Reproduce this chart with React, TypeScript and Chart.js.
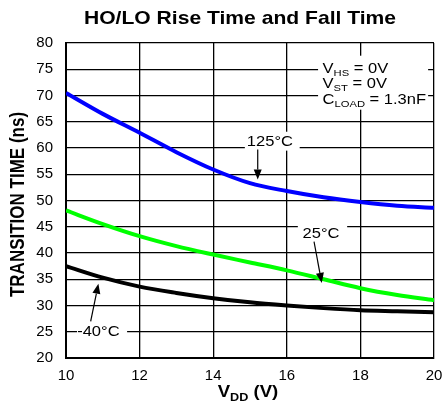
import React, { useEffect, useRef } from "react";
import { Chart, registerables } from "chart.js";

Chart.register(...registerables);

const VDD = [10, 11, 12, 13, 14, 15, 16, 17, 18, 19, 20];
const T125 = [70.5, 66.5, 62.9, 59.2, 55.9, 53.3, 51.8, 50.6, 49.7, 49.0, 48.6];
const T25 = [48.1, 45.5, 43.2, 41.3, 39.7, 38.2, 36.7, 35.0, 33.3, 32.0, 31.0];
const TM40 = [37.5, 35.3, 33.6, 32.4, 31.4, 30.6, 30.0, 29.5, 29.1, 28.9, 28.7];
const X_TICKS = [10, 12, 14, 16, 18, 20];
const Y_TICKS = [20, 25, 30, 35, 40, 45, 50, 55, 60, 65, 70, 75, 80];

const TITLE = "HO/LO Rise Time and Fall Time";
const Y_TITLE = "TRANSITION TIME (ns)";

const FONT = "'Liberation Sans', Arial, Helvetica, sans-serif";
const SX = 1.14;

type Seg = { t: string; sub?: boolean };

function richWidth(ctx: CanvasRenderingContext2D, segs: Seg[], size: number, bold: boolean) {
  let w = 0;
  for (const s of segs) {
    ctx.font = `${bold ? "bold " : ""}${s.sub ? size * 0.68 : size}px ${FONT}`;
    w += ctx.measureText(s.t).width;
  }
  return w;
}

function drawRich(
  ctx: CanvasRenderingContext2D,
  segs: Seg[],
  x: number,
  y: number,
  size: number,
  bold: boolean,
  align: "left" | "center"
) {
  ctx.save();
  ctx.translate(x, y);
  ctx.scale(SX, 1);
  ctx.fillStyle = "#000";
  ctx.textBaseline = "alphabetic";
  ctx.textAlign = "left";
  const w = richWidth(ctx, segs, size, bold);
  let cx = align === "center" ? -w / 2 : 0;
  for (const s of segs) {
    const sz = s.sub ? size * 0.68 : size;
    ctx.font = `${bold ? "bold " : ""}${sz}px ${FONT}`;
    ctx.fillText(s.t, cx, s.sub ? size * 0.22 : 0);
    cx += ctx.measureText(s.t).width;
  }
  ctx.restore();
}

function arrow(ctx: CanvasRenderingContext2D, x1: number, y1: number, x2: number, y2: number) {
  const ang = Math.atan2(y2 - y1, x2 - x1);
  const L = 10, H = 4;
  ctx.save();
  ctx.strokeStyle = "#000";
  ctx.fillStyle = "#000";
  ctx.lineWidth = 1.2;
  ctx.beginPath();
  ctx.moveTo(x1, y1);
  ctx.lineTo(x2 - Math.cos(ang) * L, y2 - Math.sin(ang) * L);
  ctx.stroke();
  ctx.beginPath();
  ctx.moveTo(x2, y2);
  ctx.lineTo(x2 - Math.cos(ang) * L - Math.sin(ang) * H, y2 - Math.sin(ang) * L + Math.cos(ang) * H);
  ctx.lineTo(x2 - Math.cos(ang) * L + Math.sin(ang) * H, y2 - Math.sin(ang) * L - Math.cos(ang) * H);
  ctx.closePath();
  ctx.fill();
  ctx.restore();
}

// annotation definitions in data units
const LABELS = [
  { text: "125°C", cx: 15.54, cy: 61.1, box: [14.86, 16.35, 63.1, 59.5], arrow: [15.21, 59.7, 15.21, 54.0] },
  { text: "25°C", cx: 16.93, cy: 43.7, box: [16.3, 17.64, 45.96, 41.77], arrow: [16.74, 42.15, 16.95, 34.3] },
  { text: "-40°C", cx: 10.88, cy: 24.9, box: [10.3, 11.66, 26.9, 22.9], arrow: [10.67, 26.97, 10.88, 34.15] },
];
const COND_BOX = [16.85, 19.84, 77.58, 67.3];
const COND_X = 16.97;
const COND_Y = [74.34, 71.39, 68.44];
const COND_LINES: Seg[][] = [
  [{ t: "V" }, { t: "HS", sub: true }, { t: " = 0V" }],
  [{ t: "V" }, { t: "ST", sub: true }, { t: " = 0V" }],
  [{ t: "C" }, { t: "LOAD", sub: true }, { t: " = 1.3nF" }],
];

const annotPlugin = {
  id: "annot",
  afterDatasetsDraw(chart: any) {
    const ctx: CanvasRenderingContext2D = chart.ctx;
    const xs = chart.scales.x;
    const ys = chart.scales.y;
    const px = (v: number) => xs.getPixelForValue(v);
    const py = (v: number) => ys.getPixelForValue(v);
    ctx.save();
    ctx.fillStyle = "#fff";
    for (const l of LABELS) {
      const [x1, x2, y1, y2] = l.box;
      ctx.fillRect(px(x1), py(y1), px(x2) - px(x1), py(y2) - py(y1));
    }
    {
      const [x1, x2, y1, y2] = COND_BOX;
      ctx.fillRect(px(x1), py(y1), px(x2) - px(x1), py(y2) - py(y1));
    }
    ctx.restore();
    for (const l of LABELS) {
      ctx.save();
      ctx.translate(px(l.cx), py(l.cy));
      ctx.scale(SX, 1);
      ctx.font = `14.5px ${FONT}`;
      ctx.fillStyle = "#000";
      ctx.textAlign = "center";
      ctx.textBaseline = "middle";
      ctx.fillText(l.text, 0, 0);
      ctx.restore();
      const [a1, b1, a2, b2] = l.arrow;
      arrow(ctx, px(a1), py(b1), px(a2), py(b2));
    }
    COND_LINES.forEach((segs, i) => {
      drawRich(ctx, segs, px(COND_X), py(COND_Y[i]), 14.5, false, "left");
    });
  },
  afterDraw(chart: any) {
    const ctx: CanvasRenderingContext2D = chart.ctx;
    const area = chart.chartArea;
    // title
    ctx.save();
    ctx.translate(240, 24);
    ctx.scale(SX, 1);
    ctx.font = `bold 18.5px ${FONT}`;
    ctx.fillStyle = "#000";
    ctx.textAlign = "center";
    ctx.textBaseline = "alphabetic";
    ctx.fillText(TITLE, 0, 0);
    ctx.restore();
    // y title
    ctx.save();
    ctx.translate(19, (area.top + area.bottom) / 2 + 4);
    ctx.rotate(-Math.PI / 2);
    ctx.scale(1, SX);
    ctx.font = `bold 17px ${FONT}`;
    ctx.fillStyle = "#000";
    ctx.textAlign = "center";
    ctx.textBaseline = "middle";
    ctx.fillText(Y_TITLE, 0, 0);
    ctx.restore();
    // x title
    drawRich(
      ctx,
      [{ t: "V" }, { t: "DD", sub: true }, { t: " (V)" }],
      (area.left + area.right) / 2 - 2,
      397,
      16.3,
      true,
      "center"
    );
  },
};

export default function App() {
  const ref = useRef<HTMLCanvasElement | null>(null);
  useEffect(() => {
    if (!ref.current) return;
    const mk = (vals: number[]) => VDD.map((x, i) => ({ x, y: vals[i] }));
    const chart = new Chart(ref.current, {
      type: "line",
      data: {
        datasets: [
          { label: "-40°C", data: mk(TM40), borderColor: "#000000", borderWidth: 4, pointRadius: 0, cubicInterpolationMode: "monotone", fill: false },
          { label: "25°C", data: mk(T25), borderColor: "#00ff00", borderWidth: 4, pointRadius: 0, cubicInterpolationMode: "monotone", fill: false },
          { label: "125°C", data: mk(T125), borderColor: "#0000ff", borderWidth: 4, pointRadius: 0, cubicInterpolationMode: "monotone", fill: false },
        ],
      },
      options: {
        animation: false,
        responsive: false,
        maintainAspectRatio: false,
        events: [],
        layout: { padding: { top: 43, right: 0, left: 0, bottom: 0 } },
        plugins: { legend: { display: false }, title: { display: false }, tooltip: { enabled: false } },
        scales: {
          x: {
            type: "linear",
            min: 10,
            max: 20,
            afterBuildTicks: (s: any) => { s.ticks = X_TICKS.map((v) => ({ value: v })); },
            afterFit: (s: any) => { s.height = 53; s.paddingRight = 9; },
            ticks: { color: "#000", font: { family: FONT, size: 15 }, padding: 9, maxRotation: 0 },
            grid: { color: "#000", lineWidth: 1.3, drawTicks: false },
            border: { color: "#000", width: 2 },
          },
          y: {
            type: "linear",
            min: 20,
            max: 80,
            afterBuildTicks: (s: any) => { s.ticks = Y_TICKS.map((v) => ({ value: v })); },
            afterFit: (s: any) => { s.width = 66; },
            ticks: { color: "#000", font: { family: FONT, size: 15 }, padding: 13 },
            grid: { color: "#000", lineWidth: 1.3, drawTicks: false },
            border: { color: "#000", width: 2 },
          },
        },
      } as any,
      plugins: [annotPlugin],
    });
    return () => chart.destroy();
  }, []);
  return (
    <div style={{ position: "fixed", left: 0, top: 0, width: 443, height: 411, background: "#fff" }}>
      <canvas ref={ref} width={443} height={411} style={{ width: 443, height: 411 }} />
    </div>
  );
}
